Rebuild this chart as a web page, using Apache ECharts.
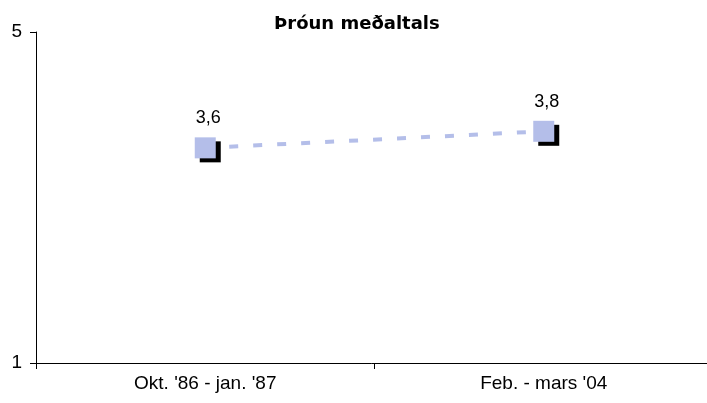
<!DOCTYPE html>
<html>
<head>
<meta charset="utf-8">
<script src="https://cdn.jsdelivr.net/npm/echarts@6/dist/echarts.min.js"></script>
<style>
  html, body { margin: 0; padding: 0; background: #fff; }
  #main { width: 707px; height: 403px; }
</style>
</head>
<body>
<div id="main"></div>
<script>
// gögn
var categories = ["Okt. '86 - jan. '87", "Feb. - mars '04"];
var medaltal = [3.6, 3.8];
var yTicks = [1, 5];

var myChart = echarts.init(document.getElementById('main'));

var option = {
    animation: false,
    title: {
        text: 'Þróun meðaltals',
        left: 269,
        top: 10,
        textStyle: { fontFamily: 'DejaVu Sans', fontSize: 18, fontWeight: 'bold', color: '#000' }
    },
    grid: { left: 36, right: -6, top: 32, bottom: 40, outerBoundsMode: 'none', containLabel: false },
    xAxis: {
        type: 'category',
        data: categories,
        boundaryGap: true,
        axisLine: { lineStyle: { color: '#000', width: 1 } },
        axisTick: { show: true, length: 6, lineStyle: { color: '#000' } },
        axisLabel: { fontFamily: 'Liberation Sans', fontSize: 19, color: '#000', margin: 11 }
    },
    yAxis: {
        type: 'value',
        min: yTicks[0],
        max: yTicks[1],
        interval: yTicks[1] - yTicks[0],
        axisLine: { show: true, lineStyle: { color: '#000', width: 1 } },
        axisTick: { show: true, length: 6, lineStyle: { color: '#000' } },
        splitLine: { show: false },
        axisLabel: { fontFamily: 'Liberation Sans', fontSize: 19, color: '#000', margin: 14 }
    },
    series: [{
        type: 'line',
        data: medaltal,
        symbol: 'rect',
        symbolSize: 21,
        lineStyle: { color: '#b4bee9', width: 4, type: [9, 15] },
        itemStyle: {
            color: '#b4bee9',
            shadowColor: '#000',
            shadowOffsetX: 5,
            shadowOffsetY: 4,
            shadowBlur: 0
        },
        label: {
            show: true,
            position: 'top',
            distance: 10,
            offset: [3, 0],
            fontFamily: 'Liberation Sans',
            fontSize: 18,
            color: '#000',
            formatter: function (p) { return p.value.toFixed(1).replace('.', ','); }
        }
    }]
};

myChart.setOption(option);
</script>
</body>
</html>
